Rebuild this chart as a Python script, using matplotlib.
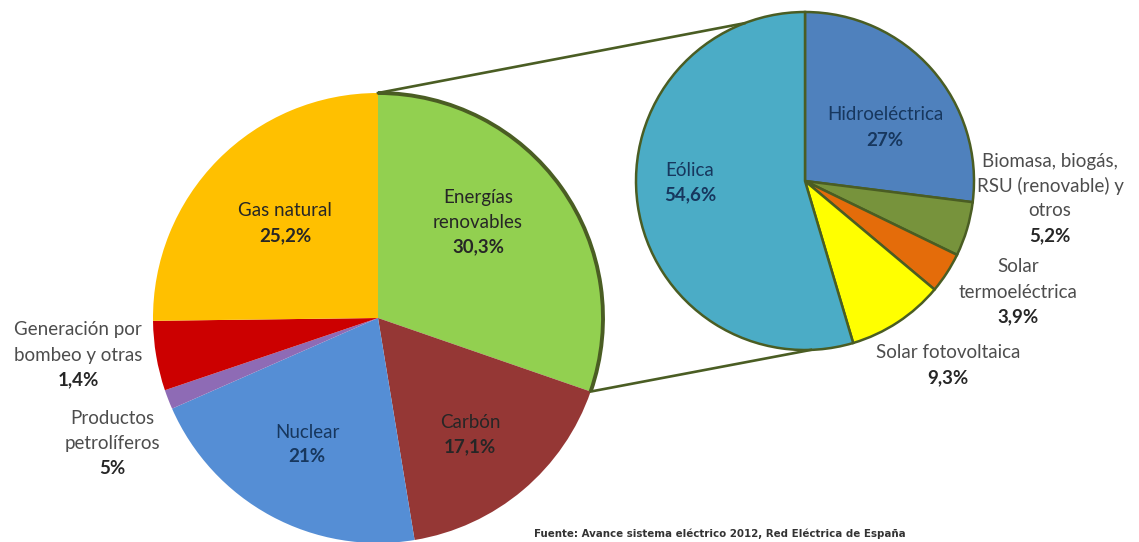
import numpy as np
import matplotlib.pyplot as plt
from matplotlib.patches import Arc

plt.rcParams['font.family'] = ['Lato', 'DejaVu Sans']

# generación total por fuente (pie izquierdo)
fuentes = ['Energías\nrenovables', 'Carbón', 'Nuclear', 'Productos\npetrolíferos',
           'Generación por\nbombeo y otras', 'Gas natural']
fuentes_pct = [30.3, 17.1, 21.0, 1.4, 5.0, 25.2]
fuentes_txt = ['30,3%', '17,1%', '21%', '5%', '1,4%', '25,2%']
fuentes_col = ['#92D050', '#953735', '#558ED5', '#8E6BB5', '#CC0000', '#FFC000']

# desglose de renovables (pie derecho)
renov = ['Hidroeléctrica', 'Biomasa, biogás,\nRSU (renovable) y\notros', 'Solar\ntermoeléctrica',
         'Solar fotovoltaica', 'Eólica']
renov_pct = [27.0, 5.2, 3.9, 9.3, 54.6]
renov_txt = ['27%', '5,2%', '3,9%', '9,3%', '54,6%']
renov_col = ['#4F81BD', '#77933C', '#E46C0A', '#FFFF00', '#4BACC6']

W, H = 1139, 542
borde = '#4A5D23'

fig = plt.figure(figsize=(W / 100, H / 100), dpi=100)
ax = fig.add_axes([0, 0, 1, 1])

c1, r1 = (378, H - 318), 225
c2, r2 = (805, H - 181), 169

ax.pie(fuentes_pct, colors=fuentes_col, startangle=90, counterclock=False,
       center=c1, radius=r1, frame=True, wedgeprops=dict(linewidth=0))
ax.pie(renov_pct, colors=renov_col, startangle=90, counterclock=False,
       center=c2, radius=r2, frame=True,
       wedgeprops=dict(linewidth=1.8, edgecolor=borde))
ax.set_xlim(0, W)
ax.set_ylim(0, H)
ax.set_aspect('equal')
ax.axis('off')

# borde del sector de renovables
t_fin = 90 - fuentes_pct[0] * 3.6
ax.add_patch(Arc(c1, 2 * r1, 2 * r1, theta1=t_fin, theta2=90, color=borde, lw=2.8, zorder=3))

# líneas de conexión entre ambos gráficos
def punto(c, r, ang):
    a = np.deg2rad(ang)
    return c[0] + r * np.cos(a), c[1] + r * np.sin(a)

for a_izq, a_der in [(90, 111), (t_fin, -88)]:
    p, q = punto(c1, r1, a_izq), punto(c2, r2, a_der)
    ax.plot([p[0], q[0]], [p[1], q[1]], color=borde, lw=1.9, zorder=3)

def etiqueta(x, y, nombre, pct, col_n, col_p, dy=25):
    y = H - y
    lineas = nombre.split('\n')
    for i, ln in enumerate(lineas):
        ax.text(x, y - i * dy, ln, ha='center', va='center', fontsize=13.5, color=col_n, zorder=4)
    ax.text(x, y - len(lineas) * dy, pct, ha='center', va='center', fontsize=13.5,
            fontweight='bold', color=col_p, zorder=4)

oscuro = '#262626'
navy = '#17375E'
gris = '#4D4D4D'

etiqueta(285, 211, fuentes[5], fuentes_txt[5], oscuro, oscuro)
etiqueta(478, 197, fuentes[0], fuentes_txt[0], oscuro, oscuro)
etiqueta(470, 422, fuentes[1], fuentes_txt[1], oscuro, oscuro)
etiqueta(307, 432, fuentes[2], fuentes_txt[2], navy, navy)
etiqueta(78, 330, fuentes[4], fuentes_txt[4], gris, oscuro)
etiqueta(112, 418, fuentes[3], fuentes_txt[3], gris, oscuro)

etiqueta(885, 115, renov[0], renov_txt[0], navy, navy)
etiqueta(1050, 161, renov[1], renov_txt[1], gris, oscuro)
etiqueta(1018, 267, renov[2], renov_txt[2], gris, oscuro)
etiqueta(948, 353, renov[3], renov_txt[3], gris, oscuro)
etiqueta(690, 170, renov[4], renov_txt[4], navy, navy)

ax.text(720, H - 534, 'Fuente: Avance sistema eléctrico 2012, Red Eléctrica de España',
        ha='center', va='center', fontsize=7.4, fontweight='bold', color='#333333',
        family=['Liberation Sans Narrow', 'DejaVu Sans'])

fig.savefig('out.png', dpi=100)
